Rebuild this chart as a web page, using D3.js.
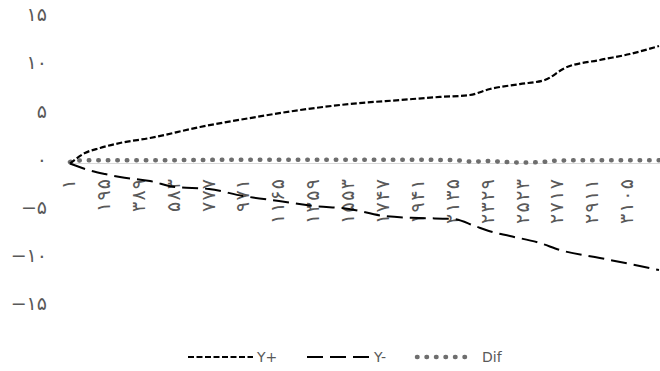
<!DOCTYPE html>
<html>
<head>
<meta charset="utf-8">
<script src="https://cdn.jsdelivr.net/npm/d3@7"></script>
<style>
  body { margin: 0; background: #fff; }
  text { font-family: "DejaVu Sans", sans-serif; fill: #595959; }
</style>
</head>
<body>
<div id="chart"></div>
<script>
// category labels shown on the x axis (every 194th observation)
var tickCats = [1, 195, 389, 583, 777, 971, 1165, 1359, 1553, 1747, 1941, 2135, 2329, 2523, 2717, 2911, 3105];
var lastCat = 3276;
var yTicks = [-15, -10, -5, 0, 5, 10, 15];

// Y+ series (sampled along the curve)
var posCats = [1, 84, 168, 279, 446, 724, 1002, 1279, 1557, 1835, 2058, 2224, 2336, 2502, 2641, 2753, 2947, 3114, 3276];
var posValues = [0.0, 1.09, 1.61, 2.13, 2.65, 3.79, 4.72, 5.55, 6.18, 6.59, 6.91, 7.11, 7.74, 8.25, 8.67, 9.92, 10.75, 11.37, 12.2];

// Y- series
var negCats = [1, 90, 196, 279, 446, 585, 774, 963, 1163, 1357, 1552, 1746, 1941, 2135, 2252, 2330, 2447, 2614, 2725, 2947, 3169, 3276];
var negValues = [0.0, -0.6, -1.09, -1.40, -1.82, -2.44, -2.65, -3.37, -3.89, -4.41, -4.72, -5.45, -5.66, -5.76, -6.49, -7.01, -7.53, -8.26, -8.98, -9.81, -10.64, -11.06];

// Dif series
var difCats = [1, 30, 195, 583, 971, 1359, 1747, 2135, 2232, 2329, 2426, 2523, 2620, 2717, 2911, 3105, 3276];
var difValues = [0.15, 0.3, 0.35, 0.35, 0.4, 0.4, 0.4, 0.35, 0.2, 0.25, 0.15, 0.1, 0.15, 0.3, 0.35, 0.35, 0.35];

var width = 660, height = 371;

var svg = d3.select('#chart')
  .append('svg')
  .attr('width', width)
  .attr('height', height);

var x = d3.scaleLinear().domain([1, lastCat]).range([70, 659]);
var y = d3.scaleLinear().domain([-15, 15]).range([307.95, 19.05]);

var faDigits = '۰۱۲۳۴۵۶۷۸۹';
function fa(n) {
  return String(n).replace(/\d/g, d => faDigits[+d]).replace('-', '\u2212');
}

// y labels
svg.selectAll('.ylab')
  .data(yTicks).enter()
  .append('text')
  .attr('class', 'ylab')
  .attr('x', 47)
  .attr('y', d => y(d) - 4.5)
  .attr('dy', '0.35em')
  .attr('text-anchor', 'end')
  .style('font-size', '19px')
  .style('letter-spacing', '1.5px')
  .text(d => fa(d));

// horizontal axis line
svg.append('line')
  .attr('x1', 70).attr('x2', 660)
  .attr('y1', y(0)).attr('y2', y(0))
  .attr('stroke', '#d9d9d9')
  .attr('stroke-width', 1.2);

// rotated category labels, digits spread ~12px apart like the original
svg.selectAll('.xlab')
  .data(tickCats).enter()
  .append('text')
  .attr('class', 'xlab')
  .attr('transform', d => 'translate(' + (x(d) + 5) + ',179) rotate(-90)')
  .attr('text-anchor', 'end')
  .attr('textLength', d => String(d).length > 1 ? String(d).length * 12 - 3 : null)
  .attr('lengthAdjust', 'spacing')
  .style('font-size', '19px')
  .text(d => fa(d));

function series(cats, vals) {
  return cats.map((c, i) => ({ c: c, v: vals[i] }));
}

var line = d3.line()
  .x(d => x(d.c))
  .y(d => y(d.v))
  .curve(d3.curveMonotoneX);

var styles = [
  { name: 'Dif', data: series(difCats, difValues), color: '#6e6e6e', w: 4.5, dash: '0.5 9', cap: 'round' },
  { name: 'Y-', data: series(negCats, negValues), color: '#000', w: 2, dash: '16 7', cap: 'butt' },
  { name: 'Y+', data: series(posCats, posValues), color: '#000', w: 2.2, dash: '6 2.5', cap: 'butt' }
];

styles.forEach(function (s) {
  svg.append('path')
    .datum(s.data)
    .attr('d', line)
    .attr('fill', 'none')
    .attr('stroke', s.color)
    .attr('stroke-width', s.w)
    .attr('stroke-dasharray', s.dash)
    .attr('stroke-linecap', s.cap);
});

// legend
var legendY = 357;
var legendItems = [
  { s: styles[2], x1: 188, x2: 253, tx: 257 },
  { s: styles[1], x1: 307, x2: 370, tx: 374 },
  { s: styles[0], x1: 417, x2: 472, tx: 482 }
];

legendItems.forEach(function (l) {
  svg.append('line')
    .attr('x1', l.x1).attr('x2', l.x2)
    .attr('y1', legendY).attr('y2', legendY)
    .attr('stroke', l.s.color)
    .attr('stroke-width', l.s.w)
    .attr('stroke-dasharray', l.s.dash)
    .attr('stroke-linecap', l.s.cap);
  svg.append('text')
    .attr('x', l.tx)
    .attr('y', legendY)
    .attr('dy', '0.35em')
    .style('font-size', '14px')
    .text(l.s.name);
});
</script>
</body>
</html>
